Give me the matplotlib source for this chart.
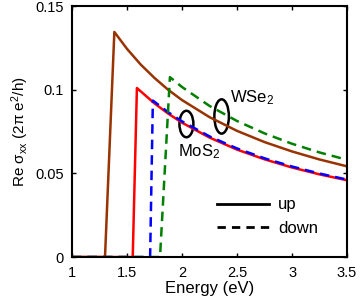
import matplotlib
matplotlib.use("Agg")
import matplotlib.pyplot as plt
from matplotlib.patches import Ellipse
from matplotlib.lines import Line2D

plt.rcParams['font.family'] = ['Liberation Sans', 'DejaVu Sans']
plt.rcParams['mathtext.fontset'] = 'custom'
plt.rcParams['mathtext.rm'] = 'Liberation Sans'
plt.rcParams['mathtext.it'] = 'Liberation Sans'
plt.rcParams['mathtext.sf'] = 'Liberation Sans'

# --- data ---
# WSe2 spin up (brown, solid)
wse2_up_E = [1.0, 1.30, 1.385, 1.5, 1.625, 1.75, 1.875, 2.0, 2.25, 2.5, 2.75, 3.0, 3.25, 3.5]
wse2_up_S = [0.0, 0.0, 0.1345, 0.1244, 0.1150, 0.1070, 0.0999, 0.0938, 0.0836, 0.0754, 0.0687, 0.0631, 0.0583, 0.0542]
# MoS2 spin up (red, solid)
mos2_up_E = [1.0, 1.552, 1.59, 1.75, 1.875, 2.0, 2.25, 2.5, 2.75, 3.0, 3.25, 3.5]
mos2_up_S = [0.0, 0.0, 0.101, 0.0918, 0.0857, 0.0803, 0.0714, 0.0642, 0.0584, 0.0535, 0.0494, 0.0459]
# MoS2 spin down (blue, dashed)
mos2_dn_E = [1.0, 1.71, 1.735, 1.875, 2.0, 2.25, 2.5, 2.75, 3.0, 3.25, 3.5]
mos2_dn_S = [0.0, 0.0, 0.0935, 0.0865, 0.0811, 0.0721, 0.0649, 0.0590, 0.0541, 0.0499, 0.0463]
# WSe2 spin down (green, dashed)
wse2_dn_E = [1.0, 1.80, 1.89, 2.0, 2.25, 2.5, 2.75, 3.0, 3.25, 3.5]
wse2_dn_S = [0.0, 0.0, 0.1075, 0.1016, 0.0903, 0.0813, 0.0739, 0.0677, 0.0625, 0.0581]

xticks = [1, 1.5, 2, 2.5, 3, 3.5]
xticklabels = ['1', '1.5', '2', '2.5', '3', '3.5']
yticks = [0, 0.05, 0.1, 0.15]
yticklabels = ['0', '0.05', '0.1', '0.15']

brown = '#993300'
red = '#ff0000'
blue = '#0000ff'
green = '#008000'
dash = (0, (3.8, 2.4))

fig = plt.figure(figsize=(3.6, 3.01), dpi=100)
ax = fig.add_axes([0.2, 0.146, 0.764, 0.834])

lw = 1.8
ax.plot(wse2_up_E, wse2_up_S, color=brown, lw=lw)
ax.plot(mos2_up_E, mos2_up_S, color=red, lw=lw)
ax.plot(mos2_dn_E, mos2_dn_S, color=blue, lw=lw, linestyle=dash)
ax.plot(wse2_dn_E, wse2_dn_S, color=green, lw=lw, linestyle=dash)

ax.add_patch(Ellipse((2.04, 0.0795), 0.127, 0.0158, fill=False, lw=1.8, color='black'))
ax.add_patch(Ellipse((2.36, 0.084), 0.132, 0.0205, fill=False, lw=1.8, color='black'))
ax.text(1.96, 0.0605, 'MoS$_2$', fontsize=12, ha='left', va='baseline')
ax.text(2.435, 0.0925, 'WSe$_2$', fontsize=12, ha='left', va='baseline')

handles = [Line2D([], [], color='black', lw=2),
           Line2D([], [], color='black', lw=2, linestyle=(0, (3, 2.2)))]
ax.legend(handles, ['up', 'down'], loc='lower right', bbox_to_anchor=(0.895, 0.085),
          frameon=False, fontsize=12, handlelength=3.1, handletextpad=0.55,
          labelspacing=0.5, borderaxespad=0, borderpad=0)

ax.set_xlim(1, 3.5)
ax.set_ylim(0, 0.15)
ax.set_xticks(xticks)
ax.set_xticklabels(xticklabels)
ax.set_yticks(yticks)
ax.set_yticklabels(yticklabels)
ax.tick_params(direction='in', length=3, width=1, top=True, right=True,
               labelsize=10.5)
ax.tick_params(axis='x', pad=6.5)
ax.tick_params(axis='y', pad=6)
for s in ax.spines.values():
    s.set_linewidth(1.5)

ax.set_xlabel('Energy (eV)', fontsize=12, labelpad=1)
ax.set_ylabel(r'Re $\mathrm{\sigma_{xx}}$ (2$\mathrm{\pi}$ e$^2$/h)', fontsize=11, labelpad=3)

fig.savefig('out.png', dpi=100)
